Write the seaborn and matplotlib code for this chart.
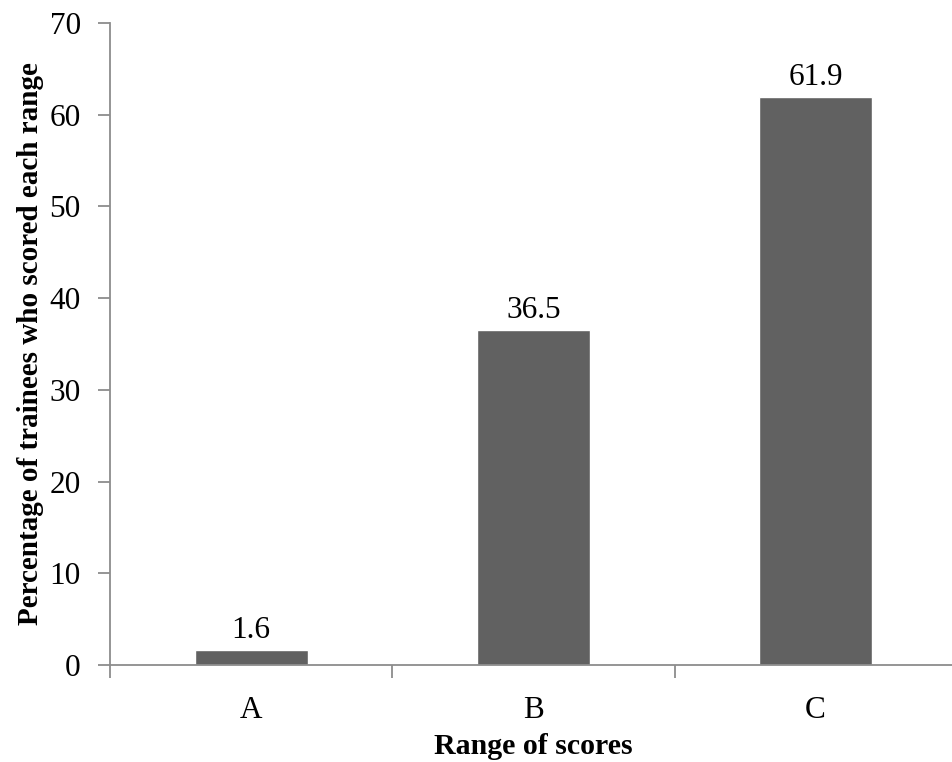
import pandas as pd
import matplotlib.pyplot as plt
import seaborn as sns

# Datos del gráfico
categorias = ["A", "B", "C"]
porcentajes = [1.6, 36.5, 61.9]

df = pd.DataFrame({"Rango": categorias, "Porcentaje": porcentajes})

sns.set_theme(style="white")
plt.rcParams['font.family'] = ['Liberation Serif', 'DejaVu Serif']
plt.rcParams['text.color'] = 'black'
plt.rcParams['axes.labelcolor'] = 'black'
plt.rcParams['xtick.labelcolor'] = 'black'
plt.rcParams['ytick.labelcolor'] = 'black'

GRIS = "#8c8c8c"

fig, ax = plt.subplots(figsize=(9.53, 7.62), dpi=100)
sns.barplot(data=df, x="Rango", y="Porcentaje", color="#616161", width=0.4,
            saturation=1, ax=ax)

# Etiquetas de valores sobre las barras
for i, v in enumerate(porcentajes):
    ax.annotate(f"{v}", (i, v), xytext=(0, 9), textcoords="offset points",
                ha="center", va="baseline", fontsize=22.5, color="black")

ax.set_xlim(-0.5, 2.5)
ax.set_ylim(0, 70)
ax.set_yticks(range(0, 71, 10))
ax.set_xticks([-0.5, 0.5, 1.5, 2.5])
ax.set_xticklabels([])
ax.set_xticks([0, 1, 2], minor=True)
ax.set_xticklabels(categorias, minor=True)
ax.tick_params(axis="x", which="major", bottom=True, length=9, width=1.3,
               color=GRIS, direction="out")
ax.tick_params(axis="x", which="minor", bottom=False, length=0, labelsize=22.5,
               pad=22, labelcolor="black")
ax.tick_params(axis="y", left=True, length=9, width=1.3, color=GRIS,
               direction="out", labelsize=22.5, pad=12, labelcolor="black")

for s in ["top", "right"]:
    ax.spines[s].set_visible(False)
for s in ["left", "bottom"]:
    ax.spines[s].set_color(GRIS)
    ax.spines[s].set_linewidth(1.3)

ax.set_xlabel("Range of scores", fontsize=21.5, fontweight="bold", color="black")
ax.set_ylabel("Percentage of trainees who scored each range", fontsize=21,
              fontweight="bold", color="black")
ax.xaxis.set_label_coords(0.5, -0.106)
ax.yaxis.set_label_coords(-0.078, 0.5)

plt.subplots_adjust(left=0.1154, right=1.004, top=0.9698, bottom=0.1273)
plt.savefig("out.png", dpi=100)
